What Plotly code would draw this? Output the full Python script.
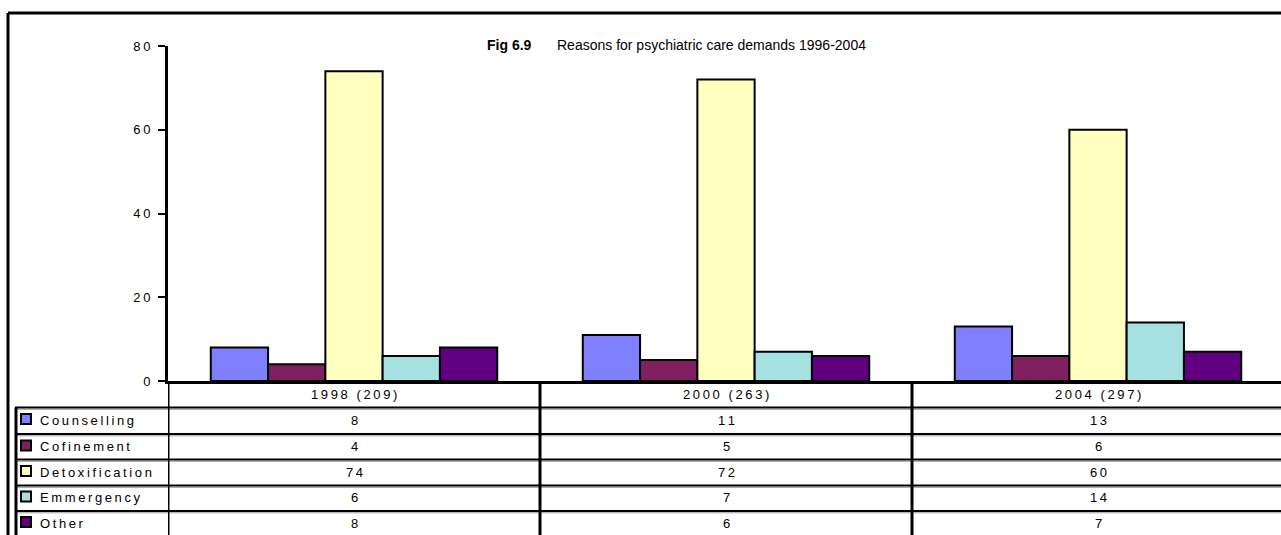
import plotly.graph_objects as go

# ---------------- data ----------------
categories = ["1998 (209)", "2000 (263)", "2004 (297)"]
series_names = ["Counselling", "Cofinement", "Detoxification", "Emmergency", "Other"]
counselling = [8, 11, 13]
cofinement = [4, 5, 6]
detoxification = [74, 72, 60]
emmergency = [6, 7, 14]
other = [8, 6, 7]
y_tick_values = [0, 20, 40, 60, 80]
title_label = "Fig 6.9"
title_text = "Reasons for psychiatric care demands 1996-2004"

series_values = [counselling, cofinement, detoxification, emmergency, other]
colors = ["#8080FF", "#802060", "#FFFFC0", "#A6E1E1", "#600080"]

# ---------------- geometry helpers ----------------
W, H = 1281, 535
L, R, T, B = 168, 0, 46, 154
PW = W - L - R
PH = H - T - B
CAT_W = 372.0


def xp(px):
    return (px - L) / PW


def yp(py):
    return (H - B - py) / PH


def spaced(s):
    s = str(s).replace(" ", "\u00a0")
    return "\u2009".join(s)


FONT = "Liberation Sans, Arial, Helvetica, sans-serif"
TS = 13

fig = go.Figure()
for name, vals, col in zip(series_names, series_values, colors):
    fig.add_trace(go.Bar(
        name=name, x=categories, y=vals,
        marker=dict(color=col, line=dict(color="black", width=2)),
        showlegend=False,
    ))

fig.update_layout(
    width=W, height=H,
    margin=dict(l=L, r=R, t=T, b=B, pad=0),
    paper_bgcolor="white", plot_bgcolor="white",
    barmode="group", bargap=0.23, bargroupgap=0,
    font=dict(family=FONT, size=TS, color="black"),
    showlegend=False,
)
fig.update_xaxes(
    type="category", range=[-0.5, -0.5 + PW / CAT_W],
    showticklabels=False, ticks="", showgrid=False, zeroline=False,
    showline=True, linewidth=3, linecolor="black",
)
fig.update_yaxes(
    range=[0, 80], tickmode="array", tickvals=y_tick_values,
    ticktext=[spaced(v) for v in y_tick_values],
    ticks="outside", ticklen=7, tickwidth=1.5, tickcolor="black",
    ticklabelstandoff=5,
    showgrid=False, zeroline=False,
    showline=True, linewidth=3, linecolor="black",
    tickfont=dict(family=FONT, size=TS, color="black"),
)

shapes = []
# outer frame
shapes.append(dict(type="line", xref="paper", yref="paper",
                   x0=xp(8), x1=xp(1300), y0=yp(13), y1=yp(13),
                   line=dict(color="black", width=3)))
shapes.append(dict(type="line", xref="paper", yref="paper",
                   x0=xp(8), x1=xp(8), y0=yp(13), y1=yp(560),
                   line=dict(color="black", width=3)))

# table horizontal lines
h_lines = [407.5, 434, 459.5, 485.5, 511]
for hy in h_lines:
    shapes.append(dict(type="line", xref="paper", yref="paper",
                       x0=xp(15), x1=xp(1300), y0=yp(hy + 1.8), y1=yp(hy + 1.8),
                       line=dict(color="#9a9a9a", width=1)))
    shapes.append(dict(type="line", xref="paper", yref="paper",
                       x0=xp(15), x1=xp(1300), y0=yp(hy), y1=yp(hy),
                       line=dict(color="black", width=2)))

# table vertical lines
shapes.append(dict(type="line", xref="paper", yref="paper",
                   x0=xp(16), x1=xp(16), y0=yp(h_lines[0]), y1=yp(560),
                   line=dict(color="black", width=3)))
for xv in [-0.5, 0.5, 1.5]:
    shapes.append(dict(type="line", xref="x", yref="paper",
                       x0=xv, x1=xv, y0=0, y1=yp(560),
                       line=dict(color="black", width=3)))

annotations = []
# title
annotations.append(dict(xref="paper", yref="paper", x=xp(485), y=yp(45),
                        xanchor="left", yanchor="middle", showarrow=False,
                        text="<b>" + title_label + "</b>",
                        font=dict(family=FONT, size=14, color="black")))
annotations.append(dict(xref="paper", yref="paper", x=xp(555), y=yp(45),
                        xanchor="left", yanchor="middle", showarrow=False,
                        text=title_text,
                        font=dict(family=FONT, size=14, color="black")))

# header row
for c in categories:
    annotations.append(dict(xref="x", yref="paper", x=c, y=yp(394),
                            xanchor="center", yanchor="middle", showarrow=False,
                            text=spaced(c), font=dict(family=FONT, size=TS)))

row_centers = [420, 446.5, 472, 497.5, 523]
for name, vals, col, rc in zip(series_names, series_values, colors, row_centers):
    shapes.append(dict(type="rect", xref="paper", yref="paper",
                       x0=xp(21), x1=xp(31), y0=yp(rc + 4), y1=yp(rc - 6),
                       fillcolor=col, line=dict(color="black", width=2)))
    annotations.append(dict(xref="paper", yref="paper", x=xp(38), y=yp(rc),
                            xanchor="left", yanchor="middle", showarrow=False,
                            text=spaced(name), font=dict(family=FONT, size=TS)))
    for c, v in zip(categories, vals):
        annotations.append(dict(xref="x", yref="paper", x=c, y=yp(rc),
                                xanchor="center", yanchor="middle", showarrow=False,
                                text=spaced(v), font=dict(family=FONT, size=TS)))

fig.update_layout(shapes=shapes, annotations=annotations)
fig.write_html("out.html")
